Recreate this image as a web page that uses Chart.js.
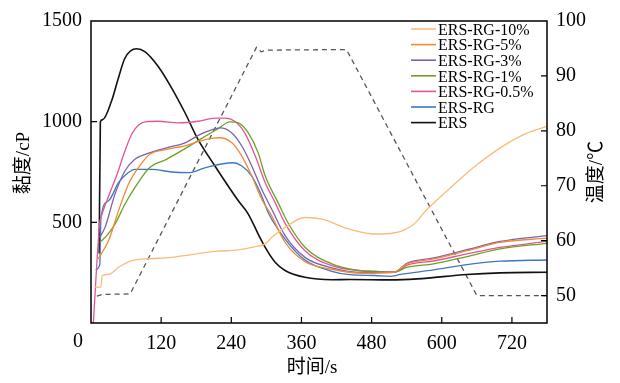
<!DOCTYPE html>
<html>
<head>
<meta charset="utf-8">
<script src="https://cdn.jsdelivr.net/npm/chart.js@4.4.0/dist/chart.umd.min.js"></script>
<style>
  html, body { margin: 0; padding: 0; background: #fff; }
  canvas { display: block; }
</style>
</head>
<body>
<canvas id="chart" width="620" height="383"></canvas>
<script>
// time (s) and viscosity (cP)
var ers10T = [7, 17, 19, 30, 47, 70, 93, 138, 172, 212, 252, 281, 298, 309, 332, 366, 395, 441, 486, 518, 552, 575, 615, 661, 700, 740, 780];
var ers10V = [178, 178, 236, 241, 277, 310, 318, 326, 340, 356, 363, 379, 393, 425, 475, 524, 516, 467, 442, 447, 491, 565, 672, 788, 870, 936, 977];

var ers5T = [12, 30, 47, 64, 81, 100, 129, 161, 186, 209, 220, 241, 258, 275, 292, 309, 332, 366, 412, 464, 518, 541, 586, 643, 700, 780];
var ers5V = [318, 409, 557, 689, 771, 837, 862, 880, 903, 918, 920, 895, 829, 730, 615, 532, 400, 305, 267, 247, 252, 294, 318, 359, 400, 422];

var ers3T = [15, 24, 41, 58, 75, 100, 129, 161, 186, 205, 221, 241, 258, 275, 292, 309, 332, 366, 412, 464, 518, 541, 586, 643, 700, 780];
var ers3V = [425, 475, 640, 755, 813, 845, 870, 895, 936, 958, 969, 944, 879, 780, 664, 566, 434, 326, 274, 251, 252, 298, 323, 364, 405, 434];

var ers1T = [15, 27, 41, 58, 75, 100, 129, 163, 186, 215, 238, 252, 269, 286, 298, 320, 335, 366, 412, 452, 486, 518, 541, 586, 643, 700, 780];
var ers1V = [400, 434, 491, 590, 672, 771, 813, 870, 911, 961, 999, 994, 944, 845, 730, 598, 508, 376, 294, 264, 257, 252, 277, 294, 330, 368, 396];

var ers05T = [4, 15, 17, 32, 46, 58, 70, 82, 95, 115, 149, 183, 212, 229, 246, 263, 281, 298, 315, 332, 366, 412, 464, 518, 541, 586, 643, 700, 780];
var ers05V = [0, 500, 524, 644, 750, 854, 940, 985, 1000, 1002, 994, 1002, 1018, 1018, 1002, 944, 829, 697, 598, 495, 359, 285, 258, 252, 288, 308, 343, 376, 405];

var ersRgT = [8, 15, 17, 30, 47, 64, 75, 104, 138, 169, 195, 243, 258, 275, 292, 303, 332, 366, 412, 443, 486, 512, 529, 586, 643, 700, 780];
var ersRgV = [265, 290, 524, 607, 697, 747, 763, 763, 750, 747, 771, 796, 780, 730, 631, 549, 417, 313, 257, 240, 236, 232, 241, 264, 290, 307, 313];

var ersT = [14, 16, 20, 35, 46, 58, 78, 92, 115, 138, 161, 183, 212, 252, 269, 286, 298, 315, 332, 366, 412, 443, 512, 558, 643, 700, 780];
var ersV = [345, 1000, 1010, 1101, 1208, 1315, 1362, 1348, 1274, 1167, 1043, 912, 780, 607, 541, 442, 376, 302, 261, 227, 215, 216, 214, 219, 241, 249, 252];

// temperature (°C), right axis
var tempT = [10, 20, 67, 283, 291, 300, 437, 660, 780];
var tempV = [49.9, 50.2, 50.3, 95.2, 94.4, 94.7, 94.8, 50.0, 50.0];

var xTicks = [0, 120, 240, 360, 480, 600, 720];
var leftTicks = [500, 1000, 1500];
var rightTicks = [50, 60, 70, 80, 90, 100];

var FONT = "'Liberation Serif', 'Noto Sans CJK SC', serif";

function pts(t, v) {
    return t.map(function(x, i) { return { x: x, y: v[i] }; });
}

function line(label, t, v, color, width) {
    return {
        label: label, data: pts(t, v), borderColor: color, backgroundColor: color,
        borderWidth: width || 1.3, pointRadius: 0, cubicInterpolationMode: 'monotone',
        yAxisID: 'y', fill: false
    };
}

function plain(v) { return String(v); }

Chart.defaults.font.family = FONT;
Chart.defaults.color = '#000';

// frame with inward tick marks, the axis titles and the corner "0"
var framePlugin = {
    id: 'frame',
    afterDatasetsDraw: function(chart) {
        var ctx = chart.ctx, a = chart.chartArea, s = chart.scales;
        ctx.save();
        ctx.strokeStyle = '#000';
        ctx.lineWidth = 1.5;
        ctx.strokeRect(a.left, a.top, a.right - a.left, a.bottom - a.top);
        ctx.lineWidth = 1.2;
        ctx.beginPath();
        xTicks.forEach(function(v) {
            if (v === 0) return;
            var px = s.x.getPixelForValue(v);
            ctx.moveTo(px, a.bottom); ctx.lineTo(px, a.bottom - 6);
        });
        leftTicks.forEach(function(v) {
            if (v === 1500) return;
            var py = s.y.getPixelForValue(v);
            ctx.moveTo(a.left, py); ctx.lineTo(a.left + 6, py);
        });
        rightTicks.forEach(function(v) {
            if (v === 100) return;
            var py = s.y2.getPixelForValue(v);
            ctx.moveTo(a.right, py); ctx.lineTo(a.right - 6, py);
        });
        ctx.stroke();

        ctx.fillStyle = '#000';
        ctx.font = '20px ' + FONT;
        ctx.textAlign = 'center';
        ctx.textBaseline = 'middle';
        ctx.fillText('0', 78, 342);

        ctx.font = '19px ' + FONT;
        ctx.fillText('时间/s', 312, 368);

        ctx.translate(24, 163);
        ctx.rotate(-Math.PI / 2);
        ctx.fillText('黏度/cP', 0, 0);
        ctx.rotate(Math.PI / 2);
        ctx.translate(-24, -163);
        ctx.translate(597, 172);
        ctx.rotate(-Math.PI / 2);
        ctx.fillText('温度/℃', 0, 0);
        ctx.restore();
    }
};

// legend in the top right corner of the plot
var legendPlugin = {
    id: 'cornerLegend',
    afterDraw: function(chart) {
        var ctx = chart.ctx;
        ctx.save();
        ctx.font = '16px ' + FONT;
        ctx.textBaseline = 'middle';
        ctx.fillStyle = '#000';
        var y = 29;
        chart.data.datasets.forEach(function(ds) {
            if (ds.yAxisID !== 'y') return;
            ctx.strokeStyle = ds.borderColor;
            ctx.lineWidth = 1.6;
            ctx.beginPath();
            ctx.moveTo(411, y); ctx.lineTo(436, y);
            ctx.stroke();
            ctx.fillText(ds.label, 438, y + 1.5);
            y += 15.6;
        });
        ctx.restore();
    }
};

var ctx = document.getElementById('chart');
var chart = new Chart(ctx, {
    type: 'line',
    data: {
        datasets: [
            line('ERS-RG-10%', ers10T, ers10V, '#f9bb7a'),
            line('ERS-RG-5%', ers5T, ers5V, '#ef8a35'),
            line('ERS-RG-3%', ers3T, ers3V, '#7b62b0'),
            line('ERS-RG-1%', ers1T, ers1V, '#6da125'),
            line('ERS-RG-0.5%', ers05T, ers05V, '#e25596'),
            line('ERS-RG', ersRgT, ersRgV, '#3f76c0'),
            line('ERS', ersT, ersV, '#111111', 1.6),
            {
                label: 'temp', data: pts(tempT, tempV), borderColor: '#555555',
                borderWidth: 1.3, borderDash: [5, 4], pointRadius: 0, tension: 0,
                yAxisID: 'y2', fill: false
            }
        ]
    },
    options: {
        responsive: false,
        animation: false,
        layout: { padding: { top: 19, right: 0, bottom: 0, left: 0 } },
        plugins: {
            legend: { display: false },
            tooltip: { enabled: false }
        },
        scales: {
            x: {
                type: 'linear', min: 0, max: 780,
                afterBuildTicks: function(s) { s.ticks = xTicks.map(function(v) { return { value: v }; }); },
                afterFit: function(s) { s.height = 60; },
                grid: { display: false, drawTicks: false },
                border: { display: false },
                ticks: {
                    font: { size: 20 }, padding: 9, maxRotation: 0, autoSkip: false,
                    callback: function(v) { return v === 0 ? '' : plain(v); }
                }
            },
            y: {
                type: 'linear', position: 'left', min: 0, max: 1500,
                afterBuildTicks: function(s) { s.ticks = leftTicks.map(function(v) { return { value: v }; }); },
                afterFit: function(s) { s.width = 91; },
                grid: { display: false, drawTicks: false },
                border: { display: false },
                ticks: { font: { size: 20 }, padding: 9, callback: plain }
            },
            y2: {
                type: 'linear', position: 'right', min: 45, max: 100,
                afterBuildTicks: function(s) { s.ticks = rightTicks.map(function(v) { return { value: v }; }); },
                afterFit: function(s) { s.width = 73; },
                grid: { display: false, drawTicks: false },
                border: { display: false },
                ticks: { font: { size: 20 }, padding: 9, callback: plain }
            }
        }
    },
    plugins: [framePlugin, legendPlugin]
});
</script>
</body>
</html>
